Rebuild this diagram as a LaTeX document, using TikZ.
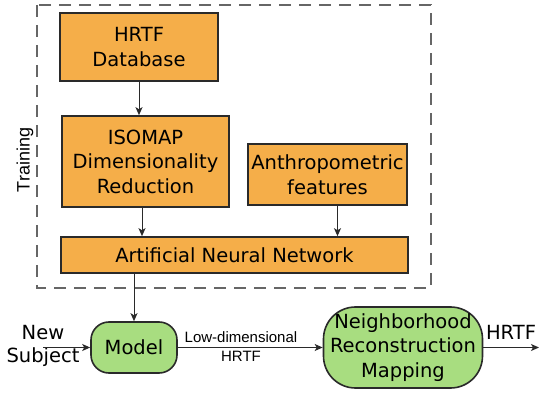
\documentclass[tikz,border=0pt]{standalone}
\usepackage{fontspec}
\setmainfont{DejaVu Sans}
\newfontfamily\arialf{Liberation Sans}
\usetikzlibrary{arrows.meta}
\definecolor{boxorange}{HTML}{F5AE49}
\definecolor{boxgreen}{HTML}{A8DD80}
\definecolor{edgegray}{HTML}{2A2A2A}
\tikzset{
  base/.style={draw=edgegray, line width=1.6pt, align=center, inner sep=0pt,
    font=\fontsize{19.5}{24.5}\selectfont, text=black},
  obox/.style={base, fill=boxorange},
  gbox/.style={base, fill=boxgreen},
  arr/.style={draw=edgegray, line width=1pt, -{Stealth[length=8pt,width=7pt,inset=2pt]}},
  plain/.style={inner sep=0pt, align=center},
}
\begin{document}
\begin{tikzpicture}[x=1pt,y=-1pt]
\useasboundingbox (0,0) rectangle (539,393);
\draw[draw=gray!80!black, line width=1.4pt, dash pattern=on 12pt off 8pt] (37,5) rectangle (431,288);
\node[plain, rotate=90, font=\arialf\fontsize{18}{20}\selectfont] (train) at (25,160) {Training};

\node[obox, minimum width=158, minimum height=68] (db) at (139,47) {HRTF\\Database};
\node[obox, minimum width=167, minimum height=91] (iso) at (145.5,161.5) {ISOMAP\\Dimensionality\\Reduction};
\node[obox, minimum width=159, minimum height=61] (anth) at (327.5,174.5) {Anthropometric\\features};
\node[obox, minimum width=347, minimum height=36] (ann) at (234.5,255) {Artificial Neural Network};

\node[gbox, minimum width=86, minimum height=51, rounded corners=18pt] (model) at (134,347.5) {Model};
\node[gbox, minimum width=159, minimum height=81, rounded corners=32pt] (nrm) at (403,347.5) {Neighborhood\\Reconstruction\\Mapping};

\node[plain, font=\fontsize{19.5}{23}\selectfont] (newsub) at (43,346) {New\\Subject};
\coordinate (in) at (43,347.5);
\coordinate (out) at (539,347.5);
\node[plain, font=\fontsize{19.5}{23}\selectfont] (hrtfout) at (511,332) {HRTF};
\node[plain, font=\arialf\fontsize{15}{19}\selectfont] (lowd) at (241,346.5) {Low-dimensional\\HRTF};

\draw[arr] (db.south) -- (db.south |- iso.north);
\draw[arr] ([xshift=-3.5pt]iso.south) -- ([xshift=-3.5pt]iso.south |- ann.north);
\draw[arr] ([xshift=10pt]anth.south) -- ([xshift=10pt]anth.south |- ann.north);
\draw[arr] (ann.south -| model.north) -- (model.north);
\draw[arr] (in) -- (model.west);
\draw[arr] (model.east) -- (nrm.west);
\draw[arr] (nrm.east) -- (out);
\end{tikzpicture}
\end{document}
